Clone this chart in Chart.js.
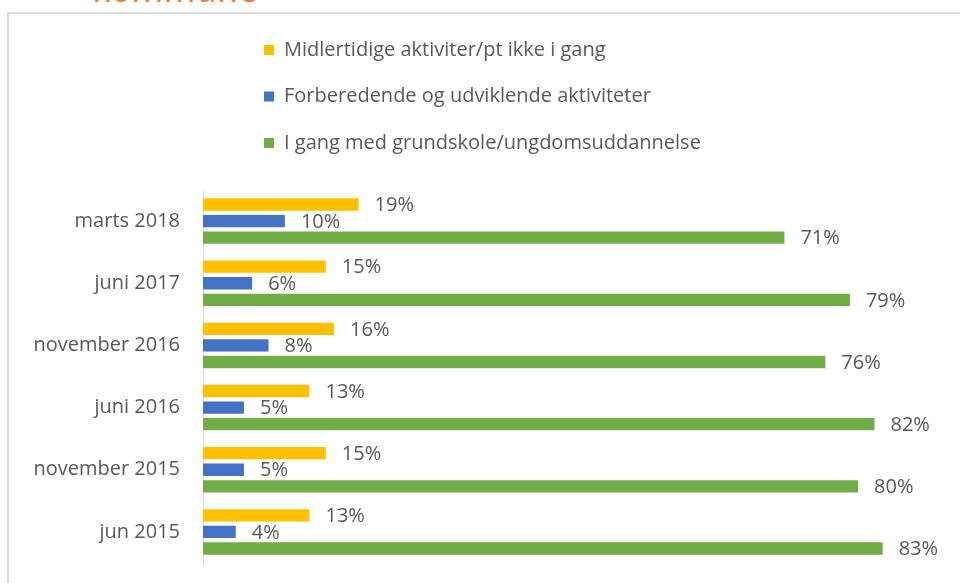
<!DOCTYPE html>
<html>
<head>
<meta charset="utf-8">
<script src="https://cdn.jsdelivr.net/npm/chart.js@4.4.1/dist/chart.umd.min.js"></script>
<style>
  html, body { margin: 0; padding: 0; background: #fff; overflow: hidden; }
  #title {
    position: absolute; left: 94px; top: -37px;
    font-family: 'Open Sans', sans-serif; font-style: italic;
    font-size: 37px; line-height: 50px; color: #ed7d31; white-space: nowrap;
  }
  #frame {
    position: absolute; left: 7px; top: 12px; width: 1000px; height: 620px;
    border: 2px solid #dcdcdc;
  }
  #chart { position: absolute; left: 0; top: 0; }
</style>
</head>
<body>
<div id="title">kommune</div>
<div id="frame"></div>
<canvas id="chart" width="960" height="598"></canvas>
<script>
const categories = ['marts 2018', 'juni 2017', 'november 2016', 'juni 2016', 'november 2015', 'jun 2015'];
const seriesNames = [
  'Midlertidige aktiviter/pt ikke i gang',
  'Forberedende og udviklende aktiviteter',
  'I gang med grundskole/ungdomsuddannelse'
];
const midlertidige = [19, 15, 16, 13, 15, 13];
const forberedende = [10, 6, 8, 5, 5, 4];
const iGang = [71, 79, 76, 82, 80, 83];
const colors = ['#ffc000', '#4472c4', '#70ad47'];

const textColor = '#595959';
const font = "'Open Sans', sans-serif";

// value labels to the right of each bar
const valueLabels = {
  id: 'valueLabels',
  afterDatasetsDraw(chart) {
    const ctx = chart.ctx;
    ctx.save();
    ctx.fillStyle = textColor;
    ctx.font = '20px ' + font;
    ctx.textAlign = 'left';
    ctx.textBaseline = 'middle';
    chart.data.datasets.forEach((ds, i) => {
      chart.getDatasetMeta(i).data.forEach((bar, j) => {
        ctx.fillText(ds.data[j] + '%', bar.x + 16, bar.y + 1);
      });
    });
    ctx.restore();
  }
};

// vertical legend above the plot
const stackedLegend = {
  id: 'stackedLegend',
  afterDraw(chart) {
    const ctx = chart.ctx;
    ctx.save();
    ctx.font = '20px ' + font;
    ctx.textBaseline = 'middle';
    chart.data.datasets.forEach((ds, i) => {
      const y = 50 + i * 46.5;
      ctx.fillStyle = ds.backgroundColor;
      ctx.fillRect(264, y - 5, 10, 10);
      ctx.fillStyle = textColor;
      ctx.fillText(ds.label, 284, y);
    });
    ctx.restore();
  }
};

new Chart(document.getElementById('chart'), {
  type: 'bar',
  data: {
    labels: categories,
    datasets: [
      { label: seriesNames[0], data: midlertidige, backgroundColor: colors[0] },
      { label: seriesNames[1], data: forberedende, backgroundColor: colors[1] },
      { label: seriesNames[2], data: iGang, backgroundColor: colors[2] }
    ]
  },
  options: {
    indexAxis: 'y',
    responsive: false,
    animation: false,
    datasets: { bar: { barPercentage: 0.74, categoryPercentage: 0.8 } },
    layout: { padding: { top: 190, bottom: 20, right: 20, left: 0 } },
    scales: {
      x: { min: 0, max: 90, display: false },
      y: {
        afterFit(scale) { scale.width = 203; },
        grid: { display: false, drawTicks: false },
        border: { display: true, color: '#d9d9d9', width: 1 },
        ticks: { color: textColor, font: { family: font, size: 20 }, padding: 23 }
      }
    },
    plugins: {
      legend: { display: false },
      tooltip: { enabled: false }
    }
  },
  plugins: [valueLabels, stackedLegend]
});
</script>
</body>
</html>
